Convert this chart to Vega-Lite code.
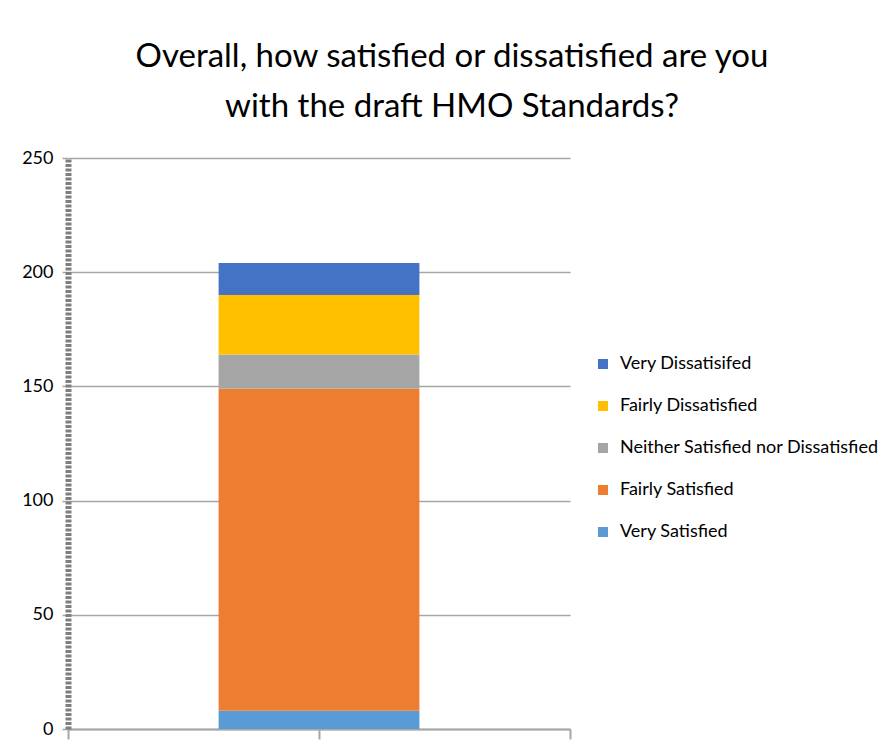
{
  "$schema": "https://vega.github.io/schema/vega-lite/v6.json",
  "width": 502,
  "height": 571,
  "autosize": {"type": "none"},
  "padding": {"left": 68, "top": 158, "right": 316, "bottom": 22},
  "background": "white",
  "title": {
    "text": ["Overall, how satisfied or dissatisfied are you", "with the draft HMO Standards?"],
    "font": "Lato",
    "fontSize": 33,
    "fontWeight": "normal",
    "color": "#000000",
    "anchor": "middle",
    "dx": 133,
    "lineHeight": 50,
    "offset": 25
  },
  "data": {
    "values": [
      {"group": "All", "category": "Very Satisfied", "rank": 1, "count": 8},
      {"group": "All", "category": "Fairly Satisfied", "rank": 2, "count": 141},
      {"group": "All", "category": "Neither Satisfied nor Dissatisfied", "rank": 3, "count": 15},
      {"group": "All", "category": "Fairly Dissatisfied", "rank": 4, "count": 26},
      {"group": "All", "category": "Very Dissatisifed", "rank": 5, "count": 14}
    ]
  },
  "layer": [
    {
      "mark": {"type": "bar", "width": {"band": 0.4}},
      "encoding": {
        "x": {
          "field": "group",
          "type": "nominal",
          "scale": {"paddingInner": 0, "paddingOuter": 0},
          "axis": {
            "orient": "bottom",
            "title": null,
            "labels": false,
            "tickBand": "extent",
            "domainColor": "#a6a6a6",
            "domainWidth": 2,
            "tickColor": "#a6a6a6",
            "tickWidth": 2,
            "tickSize": 10,
            "grid": false
          }
        },
        "y": {
          "field": "count",
          "type": "quantitative",
          "stack": "zero",
          "scale": {"domain": [0, 250], "nice": false},
          "axis": {
            "title": null,
            "values": [0, 50, 100, 150, 200, 250],
            "labelFont": "Lato",
            "labelFontSize": 18,
            "labelColor": "#000000",
            "labelPadding": 9,
            "domainColor": "#7f7f7f",
            "domainWidth": 6,
            "domainDash": [3, 1.5],
            "tickColor": "#a6a6a6",
            "tickWidth": 1.5,
            "tickSize": 6,
            "grid": true,
            "gridColor": "#a6a6a6",
            "gridWidth": 1.5
          }
        },
        "color": {
          "field": "category",
          "type": "nominal",
          "scale": {
            "domain": ["Very Dissatisifed", "Fairly Dissatisfied", "Neither Satisfied nor Dissatisfied", "Fairly Satisfied", "Very Satisfied"],
            "range": ["#4472C4", "#FFC000", "#A5A5A5", "#ED7D31", "#5B9BD5"]
          },
          "legend": {
            "title": null,
            "orient": "none",
            "legendX": 526,
            "legendY": 197,
            "symbolType": "square",
            "symbolSize": 100,
            "symbolStrokeWidth": 0,
            "labelFont": "Lato",
            "labelFontSize": 18,
            "labelColor": "#000000",
            "labelOffset": 8,
            "rowPadding": 24,
            "labelLimit": 400
          }
        },
        "order": {"field": "rank", "type": "quantitative", "sort": "ascending"}
      }
    },
    {
      "mark": {"type": "bar", "width": {"band": 0.4}, "opacity": 0},
      "encoding": {
        "x": {
          "field": "group",
          "type": "nominal",
          "axis": {
            "orient": "bottom",
            "title": null,
            "labels": false,
            "domain": false,
            "tickBand": "center",
            "tickColor": "#a6a6a6",
            "tickWidth": 2,
            "tickSize": 10,
            "offset": 0,
            "grid": false
          }
        }
      }
    }
  ],
  "resolve": {"axis": {"x": "independent"}},
  "config": {"view": {"stroke": null}}
}
